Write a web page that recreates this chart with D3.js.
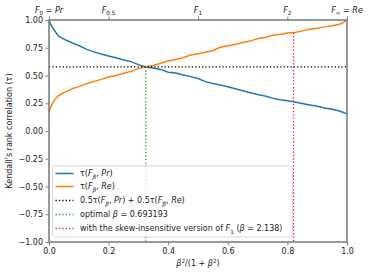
<!DOCTYPE html>
<html><head><meta charset="utf-8">
<script src="https://cdn.jsdelivr.net/npm/d3@7"></script>
<style>body{margin:0;background:#fff}svg{display:block;font-family:"DejaVu Sans",sans-serif}</style>
</head><body><svg id="c" width="369" height="276"></svg>
<script>
const tGrid = [0,0.005,0.01,0.02,0.03,0.045,0.06,0.08,0.1,0.125,0.15,0.175,0.2,0.225,0.25,0.275,0.3,0.325,0.35,0.375,0.4,0.425,0.45,0.475,0.5,0.525,0.55,0.575,0.6,0.625,0.65,0.675,0.7,0.725,0.75,0.775,0.8,0.825,0.85,0.875,0.9,0.925,0.95,0.975,0.99,1.0];
const tauPr = [1.0,0.965,0.94,0.9,0.86,0.835,0.815,0.792,0.77,0.738,0.713,0.693,0.675,0.66,0.64,0.625,0.598,0.577,0.567,0.555,0.53,0.522,0.505,0.49,0.473,0.445,0.428,0.415,0.398,0.38,0.362,0.345,0.328,0.316,0.296,0.282,0.272,0.262,0.248,0.235,0.222,0.208,0.196,0.18,0.165,0.153];
const tauRe = [0.17,0.21,0.24,0.285,0.315,0.34,0.357,0.383,0.4,0.425,0.445,0.465,0.487,0.5,0.52,0.537,0.562,0.578,0.59,0.61,0.63,0.645,0.66,0.685,0.695,0.71,0.725,0.755,0.767,0.78,0.797,0.81,0.832,0.842,0.862,0.87,0.882,0.888,0.902,0.916,0.925,0.938,0.948,0.962,0.98,1.0];
const avgTau = 0.577;
const optBeta = 0.693193;
const skewBeta = 2.138;
const yTicks = [-1,-0.75,-0.5,-0.25,0,0.25,0.5,0.75,1];
const xTicks = [0,0.2,0.4,0.6,0.8,1.0];
const topBetas = [0,0.5,1,2,Infinity];

const svg = d3.select("#c");
const L=49,R=347,T=20,B=242;
const x = d3.scaleLinear().domain([0,1]).range([L,R]);
const y = d3.scaleLinear().domain([-1,1]).range([B,T]);
const axisCol="#808080";
const fs=8;
const bt = b => b===Infinity?1:b*b/(1+b*b);

const line = d3.line().x((d,i)=>x(tGrid[i])).y(d=>y(d));
svg.append("path").attr("d",line(tauPr)).attr("fill","none").attr("stroke","#1f77b4").attr("stroke-width",1.5);
svg.append("path").attr("d",line(tauRe)).attr("fill","none").attr("stroke","#ff7f0e").attr("stroke-width",1.5);
svg.append("line").attr("x1",x(0)).attr("x2",x(1)).attr("y1",y(avgTau)).attr("y2",y(avgTau)).attr("stroke","#000").attr("stroke-width",1.3).attr("stroke-dasharray","1.3,2.1");
svg.append("line").attr("x1",x(bt(optBeta))).attr("x2",x(bt(optBeta))).attr("y1",y(avgTau)).attr("y2",y(-1)).attr("stroke","#2ca02c").attr("stroke-width",1.3).attr("stroke-dasharray","1.3,2.1");
const xs = bt(skewBeta);
const idx = d3.bisectLeft(tGrid, xs);
const reAt = tauRe[idx-1] + (tauRe[idx]-tauRe[idx-1])*(xs-tGrid[idx-1])/(tGrid[idx]-tGrid[idx-1]);
svg.append("line").attr("x1",x(xs)).attr("x2",x(xs)).attr("y1",y(reAt)).attr("y2",y(-1)).attr("stroke","#d62728").attr("stroke-width",1.3).attr("stroke-dasharray","1.3,2.1");

function styleAxis(g){
  g.selectAll(".domain").remove();
  g.selectAll(".tick line").attr("stroke",axisCol).attr("stroke-width",1);
  g.selectAll(".tick text").attr("fill","#222").style("font-size",fs+"px").style("font-family","DejaVu Sans");
}
const fmtY = d=>d3.format(".2f")(d).replace("-","−");
svg.append("g").attr("transform",`translate(${L},0)`).call(d3.axisLeft(y).tickValues(yTicks).tickFormat(fmtY).tickSize(3.5).tickPadding(2.5)).call(styleAxis);
svg.append("g").attr("transform",`translate(0,${B})`).call(d3.axisBottom(x).tickValues(xTicks).tickFormat(d3.format(".1f")).tickSize(3.5).tickPadding(2.5)).call(styleAxis);
svg.append("g").attr("transform",`translate(0,${T})`).call(d3.axisTop(x).tickValues(topBetas.map(bt)).tickFormat("").tickSize(3.5)).call(styleAxis);

svg.append("rect").attr("x",L).attr("y",T).attr("width",R-L).attr("height",B-T).attr("fill","none").attr("stroke",axisCol).attr("stroke-width",1.6);

const topLabels = [
  [{t:"F",i:1},{t:"0",sub:1},{t:" = "},{t:"Pr",i:1}],
  [{t:"F",i:1},{t:"0.5",sub:1}],
  [{t:"F",i:1},{t:"1",sub:1}],
  [{t:"F",i:1},{t:"2",sub:1}],
  [{t:"F",i:1},{t:"∞",sub:1},{t:" = "},{t:"Re",i:1}]
];
function rich(sel, parts, size){
  let shift=0;
  parts.forEach(p=>{
    const ts = sel.append("tspan").text(p.t.replace(/ /g,"\u00a0"));
    if(p.i) ts.style("font-style","italic");
    let target=0;
    if(p.sub) target=size*0.28;
    if(p.sup) target=-size*0.4;
    if(p.sub||p.sup) ts.style("font-size",(size*0.72)+"px");
    ts.attr("dy",target-shift);
    shift=target;
  });
}
topBetas.forEach((b,i)=>{
  const t = svg.append("text").attr("x",x(bt(b))).attr("y",13).attr("text-anchor","middle").style("font-size",fs+"px").attr("fill","#222");
  rich(t, topLabels[i], fs);
});

const yl = svg.append("text").attr("transform",`translate(12,${(T+B)/2}) rotate(-90)`).attr("text-anchor","middle").style("font-size",fs+"px").attr("fill","#222");
rich(yl,[{t:"Kendall's rank correlation ("},{t:"τ"},{t:")"}],fs);
const xl = svg.append("text").attr("x",(L+R)/2).attr("y",266).attr("text-anchor","middle").style("font-size",fs+"px").attr("fill","#222");
rich(xl,[{t:"β",i:1},{t:"2",sup:1},{t:"/(1 + "},{t:"β",i:1},{t:"2",sup:1},{t:")"}],fs);

const lg = svg.append("g");
lg.append("rect").attr("x",52.7).attr("y",166).attr("width",239.6).attr("height",71).attr("rx",2).attr("fill","#fff").attr("fill-opacity",0.8).attr("stroke","#ccc").attr("stroke-width",0.8);
const legItems = [
  {c:"#1f77b4",dash:null,parts:[{t:"τ("},{t:"F",i:1},{t:"β",i:1,sub:1},{t:", "},{t:"Pr",i:1},{t:")"}]},
  {c:"#ff7f0e",dash:null,parts:[{t:"τ("},{t:"F",i:1},{t:"β",i:1,sub:1},{t:", "},{t:"Re",i:1},{t:")"}]},
  {c:"#000",dash:"1.3,2.1",parts:[{t:"0.5τ("},{t:"F",i:1},{t:"β",i:1,sub:1},{t:", "},{t:"Pr",i:1},{t:") + 0.5τ("},{t:"F",i:1},{t:"β",i:1,sub:1},{t:", "},{t:"Re",i:1},{t:")"}]},
  {c:"#2ca02c",dash:"1.3,2.1",parts:[{t:"optimal "},{t:"β",i:1},{t:" = 0.693193"}]},
  {c:"#d62728",dash:"1.3,2.1",parts:[{t:"with the skew-insensitive version of "},{t:"F",i:1},{t:"1",sub:1},{t:" ("},{t:"β",i:1},{t:" = 2.138)"}]}
];
const rowY=[173.5,186.5,200.5,214.5,228.5];
legItems.forEach((it,i)=>{
  const l = lg.append("line").attr("x1",55.5).attr("x2",73.5).attr("y1",rowY[i]).attr("y2",rowY[i]).attr("stroke",it.c).attr("stroke-width",1.5);
  if(it.dash) l.attr("stroke-dasharray",it.dash).attr("stroke-width",1.3);
  const t = lg.append("text").attr("x",80).attr("y",rowY[i]+2.8).style("font-size",fs+"px").attr("fill","#222");
  rich(t,it.parts,fs);
});
</script>
</body></html>
